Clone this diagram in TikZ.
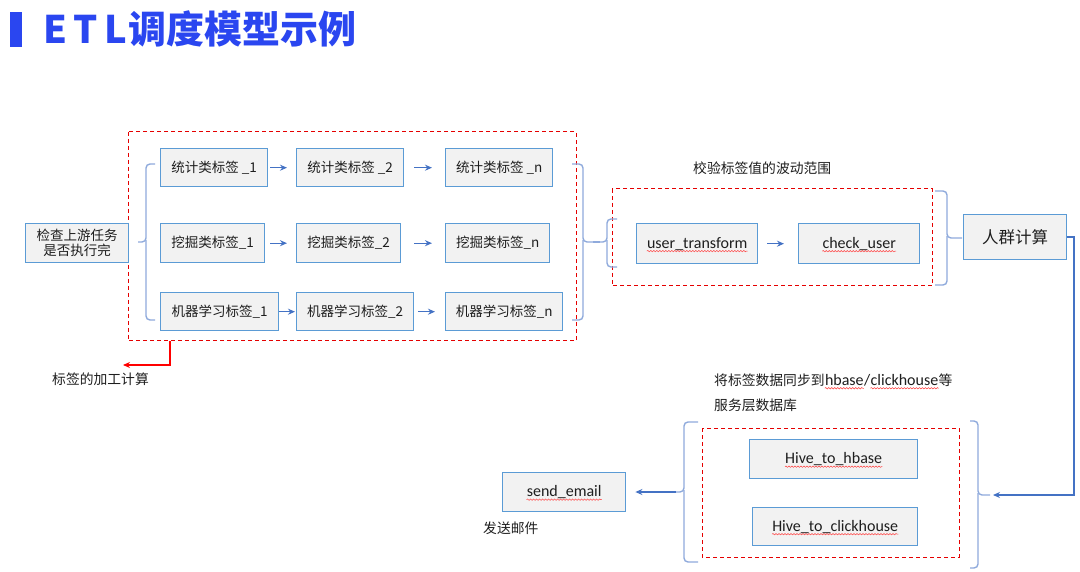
\documentclass[tikz,border=0pt]{standalone}
\usepackage{fontspec}
\setmainfont{Carlito}
\newfontfamily\cjk{Noto Sans CJK SC}
\usetikzlibrary{arrows.meta,decorations.pathmorphing}
\definecolor{boxblue}{RGB}{91,155,213}
\definecolor{boxfill}{RGB}{242,242,242}
\definecolor{brblue}{RGB}{143,170,220}
\definecolor{arblue}{RGB}{68,114,196}
\definecolor{titleblue}{RGB}{42,70,240}
\definecolor{txt}{RGB}{30,30,30}
\tikzset{
  box/.style={draw=boxblue, fill=boxfill, line width=1.4pt, anchor=north west, inner sep=0pt, text=txt},
  ctext/.style={font=\cjk\fontsize{13.5}{16}\selectfont, text=txt},
  ltext/.style={font=\fontsize{16}{19}\selectfont, text=txt, inner sep=0pt},
  lbl/.style={font=\cjk\fontsize{13.8}{16}\selectfont, text=txt, inner sep=0pt, anchor=west},
  reddash/.style={draw=red!90!black, line width=1pt, dash pattern=on 4pt off 3pt},
  brace/.style={draw=brblue, line width=1.4pt, rounded corners=4pt},
  arr/.style={draw=arblue, line width=1.2pt, -{Stealth[length=7pt,width=6pt]}},
  wavy/.style={draw=red!75, line width=0.5pt, decorate, decoration={snake, amplitude=0.7pt, segment length=3pt}}
}
\begin{document}
\begin{tikzpicture}[x=1pt,y=-1pt]
\useasboundingbox (0,0) rectangle (1080,572);
\fill[white] (0,0) rectangle (1080,572);
% title
\fill[titleblue] (10,12) rectangle (22,47);
\node[anchor=west, inner sep=0pt, text=titleblue, font=\cjk\bfseries\fontsize{38}{44}\selectfont] (title) at (43,29) {E\hspace{6pt}T\hspace{7pt}L\hspace{1pt}调度模型示例};

% red dashed groups
\draw[reddash] (128,132) rectangle (576,341);
\draw[reddash] (612,189) rectangle (932,286);
\draw[reddash] (702,428) rectangle (959,557);

% start box
\node[box, minimum width=103pt, minimum height=39pt, align=center, ctext] (chk) at (25,223) {检查上游任务\\[-1pt]是否执行完};

% label boxes
\node[box, minimum width=107pt, minimum height=38pt, ctext] (s1) at (160,148) {统计类标签 \_1};
\node[box, minimum width=107pt, minimum height=38pt, ctext] (s2) at (296,148) {统计类标签 \_2};
\node[box, minimum width=107pt, minimum height=38pt, ctext] (s3) at (445,148) {统计类标签 \_n};
\node[box, minimum width=104pt, minimum height=39pt, ctext] (w1) at (160,223) {挖掘类标签\_1};
\node[box, minimum width=104pt, minimum height=39pt, ctext] (w2) at (296,223) {挖掘类标签\_2};
\node[box, minimum width=104pt, minimum height=39pt, ctext] (w3) at (445,223) {挖掘类标签\_n};
\node[box, minimum width=118pt, minimum height=38pt, ctext] (m1) at (160,292) {机器学习标签\_1};
\node[box, minimum width=117pt, minimum height=38pt, ctext] (m2) at (296,292) {机器学习标签\_2};
\node[box, minimum width=117pt, minimum height=38pt, ctext] (m3) at (445,292) {机器学习标签\_n};

% arrows between label boxes
\draw[arr, shorten <=2pt, shorten >=9pt] (s1.east) -- (s2.west);
\draw[arr, shorten <=10pt, shorten >=13pt] (s2.east) -- (s3.west);
\draw[arr, shorten <=5pt, shorten >=9pt] (w1.east) -- (w2.west);
\draw[arr, shorten <=13pt, shorten >=13pt] (w2.east) -- (w3.west);
\draw[arr, shorten >=1pt] (m1.east) -- (m2.west);
\draw[arr, shorten <=4pt, shorten >=10pt] (m2.east) -- (m3.west);

% brace before the label boxes
\coordinate (b1tip) at (138,242);
\draw[brace] (155,164) -| (146,242) -- (b1tip);
\draw[brace] (146,240) |- (155,320);

% brace after the label boxes and into the check group
\coordinate (b2tip) at (593,242);
\draw[brace] (572,164) -| (583,242) -- (b2tip);
\draw[brace] (583,240) |- (572,320);
\coordinate (b3tip) at (600,242);
\draw[draw=brblue, line width=1.4pt] (b2tip) -- (b3tip);
\draw[brace] (617,219) -| (607,242) -- (b3tip);
\draw[brace] (607,240) |- (617,267);

% red arrow label
\coordinate (rtop) at (170,341);
\coordinate (rend) at (123,365);
\draw[draw=red, line width=1.2pt, -{Stealth[length=7pt,width=6pt]}] (rtop) |- (rend);
\node[lbl] (lblcalc) at (52,379) {标签的加工计算};

% check group
\node[lbl] (lblcheck) at (693,168) {校验标签值的波动范围};
\node[box, minimum width=121pt, minimum height=40pt] (ut) at (636,223) {};
\node[ltext] (utt) at (ut.center) {user\_transform};
\node[box, minimum width=121pt, minimum height=40pt] (cu) at (798,223) {};
\node[ltext] (cut) at (cu.center) {check\_user};
\draw[wavy] ([yshift=-3pt]utt.base west) -- ([yshift=-3pt]utt.base east);
\draw[wavy] ([yshift=-3pt]cut.base west) -- ([yshift=-3pt]cut.base east);
\draw[arr, shorten <=9pt, shorten >=14pt] (ut.east) -- (cu.west);

% brace after check group
\coordinate (b4tip) at (962,238);
\draw[brace] (935,191) -| (947,238) -- (b4tip);
\draw[brace] (947,236) |- (935,285);

% crowd computing
\node[box, minimum width=103pt, minimum height=45pt, font=\cjk\fontsize{16.5}{19}\selectfont] (rq) at (963,214) {人群计算};
\coordinate (turn) at (1074,237);
\coordinate (b6tip) at (990,495);
\draw[arr, line width=1.1pt, shorten >=3pt] (rq.east |- turn) -- (turn) |- (b6tip);

% sync group
\node[lbl] (l1a) at (714,380) {将标签数据同步到};
\node[ltext, anchor=base west] (l1b) at (l1a.base east) {hbase};
\node[ltext, anchor=base west] (l1c) at (l1b.base east) {/};
\node[ltext, anchor=base west] (l1d) at (l1c.base east) {clickhouse};
\node[lbl, anchor=base west] (l1e) at (l1d.base east) {等};
\draw[wavy] ([yshift=-3pt]l1b.base west) -- ([yshift=-3pt]l1b.base east);
\draw[wavy] ([yshift=-3pt]l1d.base west) -- ([yshift=-3pt]l1d.base east);
\node[lbl] (l2) at (714,405) {服务层数据库};

\node[box, minimum width=168pt, minimum height=39pt] (hh) at (749,439) {};
\node[ltext] (hht) at (hh.center) {Hive\_to\_hbase};
\node[box, minimum width=165pt, minimum height=38pt] (hc) at (752,507) {};
\node[ltext] (hct) at (hc.center) {Hive\_to\_clickhouse};
\draw[wavy] ([yshift=-3pt]hht.base west) -- ([yshift=-3pt]hht.base east);
\draw[wavy] ([yshift=-3pt]hct.base west) -- ([yshift=-3pt]hct.base east);

% braces around sync group
\coordinate (b5tip) at (676,492);
\draw[brace] (698,422) -| (684,492) -- (b5tip);
\draw[brace] (684,490) |- (698,562);
\draw[brace] (970,421) -| (978,495) -- (b6tip);
\draw[brace] (978,493) |- (970,568);

% send email
\node[box, minimum width=123pt, minimum height=39pt] (se) at (502,472) {};
\node[ltext] (set) at (se.center) {send\_email};
\draw[wavy] ([yshift=-3pt]set.base west) -- ([yshift=-3pt]set.base east);
\draw[arr, shorten >=9pt] (b5tip) -- (se.east |- b5tip);
\node[lbl] (lblmail) at (483,528) {发送邮件};
\end{tikzpicture}
\end{document}
